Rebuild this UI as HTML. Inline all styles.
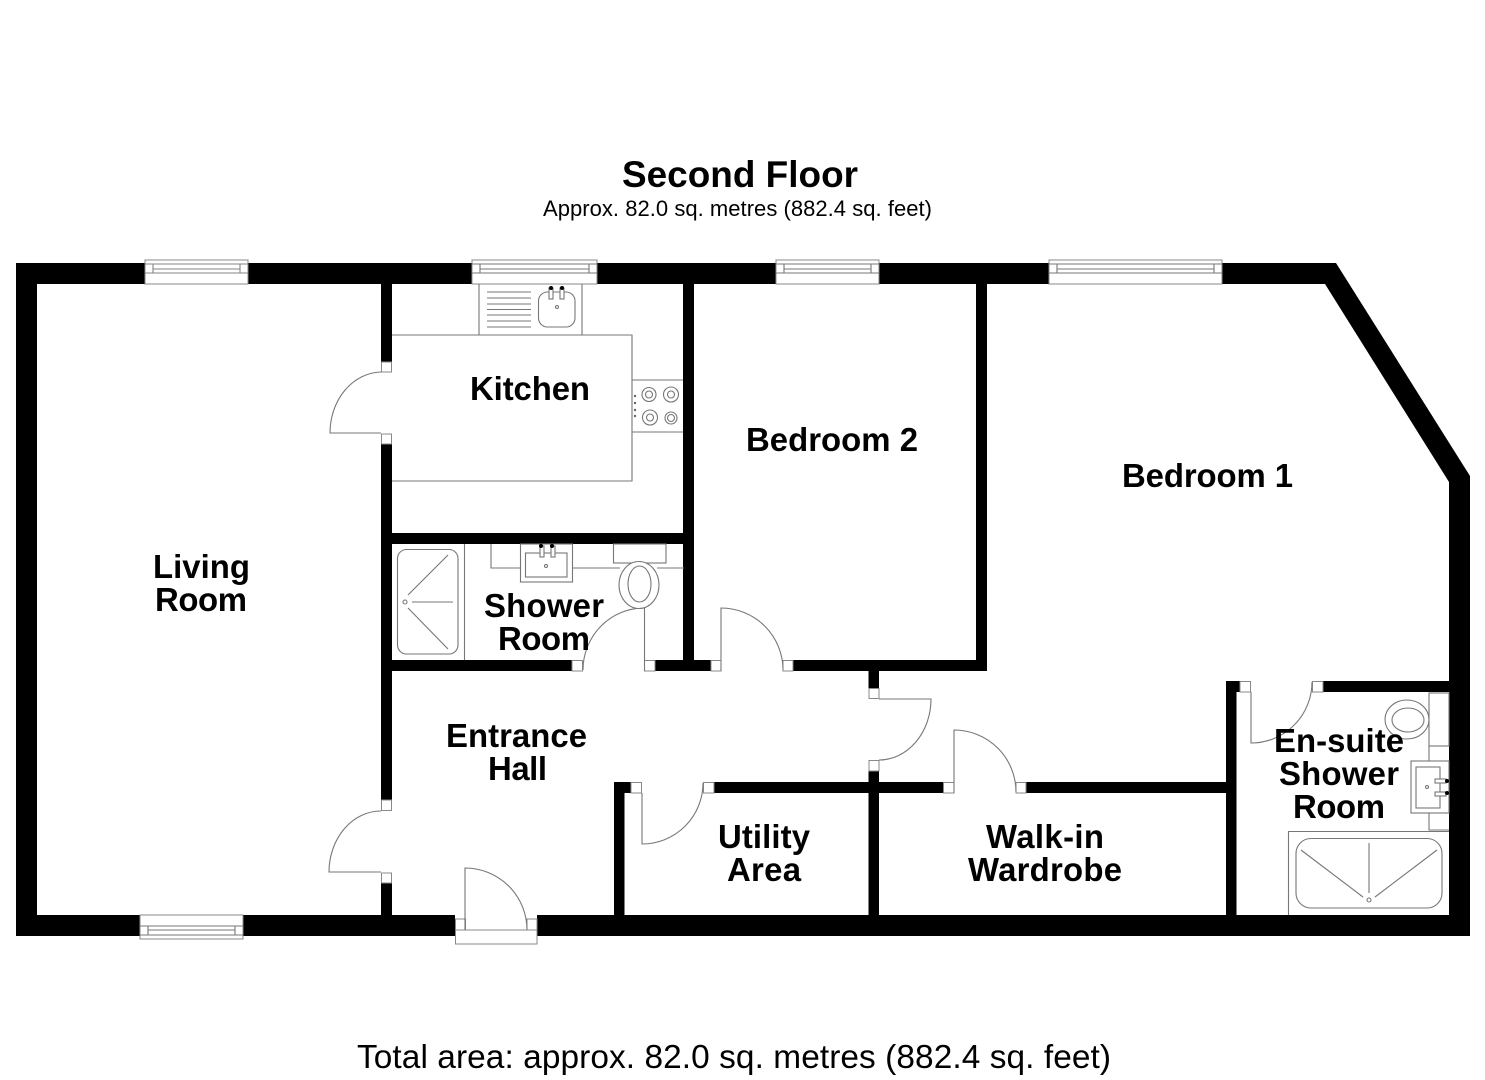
<!DOCTYPE html>
<html lang="en">
<head>
<meta charset="utf-8">
<title>Second Floor</title>
<style>
html,body{margin:0;padding:0;background:#fff}
svg{display:block}
text{font-family:"Liberation Sans",Arial,sans-serif;fill:#000}
.r{font-weight:700;font-size:32.900px}
.l{fill:none;stroke:#777;stroke-width:1.1}
.w{fill:#000}
.j{fill:#fff;stroke:#888;stroke-width:1}
</style>
</head>
<body>
<svg width="1485" height="1080" viewBox="0 0 1485 1080" xmlns="http://www.w3.org/2000/svg">
<rect width="1485" height="1080" fill="#fff"/>

<!-- outer walls -->
<path class="w" fill-rule="evenodd" d="M16 263H1336L1470 476V936H16ZM37 284V915H1449V482L1325 284Z"/>

<!-- interior walls -->
<g class="w">
<rect x="381" y="284" width="11" height="78"/>
<rect x="381" y="444" width="11" height="356"/>
<rect x="381" y="883" width="11" height="32"/>
<rect x="683" y="284" width="11" height="387"/>
<rect x="391" y="533" width="293" height="11"/>
<rect x="391" y="660" width="181" height="11"/>
<rect x="655" y="660" width="56" height="11"/>
<rect x="793" y="660" width="194" height="11"/>
<rect x="976" y="284" width="11" height="387"/>
<rect x="868.500" y="671" width="10.500" height="17"/>
<rect x="868.500" y="771" width="10.500" height="144"/>
<rect x="614" y="782" width="10.500" height="133"/>
<rect x="614" y="782" width="17" height="11"/>
<rect x="714" y="782" width="229" height="11"/>
<rect x="1026" y="782" width="201" height="11"/>
<rect x="1226" y="681" width="10.500" height="234"/>
<rect x="1226" y="681" width="14" height="11"/>
<rect x="1323" y="681" width="126" height="11"/>
</g>

<!-- windows -->
<g>
<rect x="145" y="260" width="103" height="24" fill="#fff" stroke="#888"/>
<path class="l" d="M145 264H248M153 264V273M240 264V273M153 269H240M153 273H240M145 273H248" stroke-opacity=".9"/>
<rect x="472" y="260" width="125" height="24" fill="#fff" stroke="#888"/>
<path class="l" d="M472 264H597M480 264V273M589 264V273M480 269H589M472 273H597"/>
<rect x="776" y="260" width="103" height="24" fill="#fff" stroke="#888"/>
<path class="l" d="M776 264H879M784 264V273M871 264V273M784 269H871M776 273H879"/>
<rect x="1049" y="260" width="173" height="24" fill="#fff" stroke="#888"/>
<path class="l" d="M1049 264H1222M1057 264V273M1214 264V273M1057 269H1214M1049 273H1222"/>
<rect x="140" y="915" width="103" height="24" fill="#fff" stroke="#888"/>
<path class="l" d="M140 926H243M148 926V935M235 926V935M148 930H235M140 935H243"/>
</g>

<!-- entrance opening -->
<rect x="455" y="914" width="82" height="23" fill="#fff"/>
<rect class="j" x="455.500" y="930" width="81.500" height="14"/>
<rect class="j" x="455.500" y="919" width="10" height="11"/>
<rect class="j" x="527" y="919" width="10" height="11"/>
<path class="l" d="M465 930V868A62 62 0 0 1 527 930"/>

<!-- door jambs -->
<g class="j">
<rect x="381.500" y="362" width="10" height="10"/>
<rect x="381.500" y="434" width="10" height="10"/>
<rect x="381.500" y="800" width="10" height="10.500"/>
<rect x="381.500" y="873" width="10" height="10"/>
<rect x="572" y="660.500" width="10.500" height="10.500"/>
<rect x="644.500" y="660.500" width="10.500" height="10.500"/>
<rect x="711" y="660.500" width="10" height="10.500"/>
<rect x="783" y="660.500" width="10" height="10.500"/>
<rect x="869" y="688.500" width="10" height="10"/>
<rect x="869" y="760.500" width="10" height="10.500"/>
<rect x="631" y="782.500" width="10.500" height="10.500"/>
<rect x="703.500" y="782.500" width="10.500" height="10.500"/>
<rect x="943.500" y="782.500" width="10.500" height="10.500"/>
<rect x="1016" y="782.500" width="10" height="10.500"/>
<rect x="1240" y="681.500" width="10.500" height="10.500"/>
<rect x="1312.500" y="681.500" width="10.500" height="10.500"/>
</g>

<!-- doors -->
<g class="l">
<path d="M381 372A52 61 0 0 0 330 433H381"/>
<path d="M381 811A52 61 0 0 0 329 872H381"/>
<path d="M644.500 671V608A61 62 0 0 0 583 670"/>
<path d="M721 671V608A62 62 0 0 1 783 670"/>
<path d="M879 699H931A52 61 0 0 1 879 760"/>
<path d="M642 793V844A61 61 0 0 0 703 783"/>
<path d="M954 793V730A62 62 0 0 1 1016 792"/>
<path d="M1251 692V743A61 61 0 0 0 1312 682"/>
</g>

<!-- kitchen fittings -->
<g class="l">
<path d="M392 335H632V481H392"/>
<path d="M632 380H683M632 432H683"/>
<path d="M479 284V335M582 284V335"/>
<path d="M487 292H531M487 298H531M487 304H531M487 309.500H531M487 315H531M487 321H531M487 327H531"/>
<rect x="538.500" y="292" width="36.500" height="35" rx="9"/>
<circle cx="557" cy="307" r="1.500"/>
<rect x="549" y="288" width="4" height="11" fill="#fff"/>
<rect x="560" y="288" width="4" height="11" fill="#fff"/>
<circle cx="649" cy="394.500" r="7"/><circle cx="649" cy="394.500" r="3.500"/>
<circle cx="671" cy="394.500" r="7.500"/><circle cx="671" cy="394.500" r="3.500"/>
<circle cx="650" cy="417.500" r="7.500"/><circle cx="650" cy="417.500" r="3.500"/>
<circle cx="671" cy="418" r="6"/><circle cx="671" cy="418" r="3.500"/>
</g>
<g fill="#666">
<circle cx="635" cy="396" r="1.200"/><circle cx="635" cy="403" r="1.200"/><circle cx="635" cy="410" r="1.200"/><circle cx="635" cy="416" r="1.200"/>
</g>
<circle cx="551" cy="288" r="2" fill="#000"/><circle cx="562" cy="288" r="2" fill="#000"/>

<!-- shower room fittings -->
<g class="l">
<path d="M464.500 544V660"/>
<rect x="397.500" y="549.500" width="60.500" height="104.500" rx="9"/>
<path d="M408 595L448 555M412 602H453M408 608L448 649"/>
<circle cx="405" cy="602" r="2"/>
<path d="M491 544V568H520M572 568H620M657 568H684"/>
<rect x="520.500" y="544" width="52" height="38" fill="#fff"/>
<rect x="525.500" y="553" width="41.500" height="24"/>
<circle cx="546" cy="566" r="1.500"/>
<rect x="540" y="546" width="4" height="11" fill="#fff"/>
<rect x="551" y="546" width="4" height="11" fill="#fff"/>
<rect x="613.500" y="544" width="52.500" height="19"/>
<ellipse cx="639" cy="585" rx="20" ry="23.500" fill="#fff"/>
<ellipse cx="639.500" cy="584" rx="11.500" ry="18"/>
</g>
<circle cx="541" cy="546" r="2" fill="#000"/><circle cx="552" cy="546" r="2" fill="#000"/>

<!-- en-suite fittings -->
<g class="l">
<ellipse cx="1407" cy="719.500" rx="22" ry="19.500"/>
<ellipse cx="1408" cy="720" rx="16" ry="12"/>
<rect x="1429" y="693" width="20" height="53" fill="#fff"/>
<path d="M1429 746V761M1429 813V830H1449"/>
<rect x="1411" y="761" width="38" height="52" fill="#fff"/>
<rect x="1416" y="767" width="24" height="41"/>
<circle cx="1427" cy="787" r="1.500"/>
<rect x="1435" y="779" width="11" height="4" fill="#fff"/>
<rect x="1435" y="792" width="11" height="4" fill="#fff"/>
<path d="M1288.500 915V831.500H1449"/>
<rect x="1296" y="838.500" width="146" height="69.500" rx="15"/>
<path d="M1369 843V893M1301 850L1363 897M1437 850L1375 897"/>
<circle cx="1369" cy="900" r="2"/>
</g>
<circle cx="1447" cy="781" r="2" fill="#000"/><circle cx="1447" cy="793" r="2" fill="#000"/>

<!-- headings -->
<text x="622" y="187" font-size="36.900" font-weight="700" textLength="236" lengthAdjust="spacing">Second Floor</text>
<text x="543" y="216" font-size="22" textLength="389" lengthAdjust="spacing">Approx. 82.0 sq. metres (882.4 sq. feet)</text>
<text x="357" y="1068" font-size="33.400" textLength="754" lengthAdjust="spacing">Total area: approx. 82.0 sq. metres (882.4 sq. feet)</text>

<!-- room labels -->
<g class="r">
<text x="470" y="400" textLength="120" lengthAdjust="spacing">Kitchen</text>
<text x="746" y="451" textLength="172" lengthAdjust="spacing">Bedroom 2</text>
<text x="1122" y="487" textLength="171" lengthAdjust="spacing">Bedroom 1</text>
<text x="153" y="578" textLength="97" lengthAdjust="spacing">Living</text>
<text x="155" y="611" textLength="92" lengthAdjust="spacing">Room</text>
<text x="484" y="617" textLength="120" lengthAdjust="spacing">Shower</text>
<text x="498" y="650" textLength="92" lengthAdjust="spacing">Room</text>
<text x="446" y="747" textLength="141" lengthAdjust="spacing">Entrance</text>
<text x="488" y="780" textLength="59" lengthAdjust="spacing">Hall</text>
<text x="718" y="848" textLength="92" lengthAdjust="spacing">Utility</text>
<text x="727" y="881" textLength="74" lengthAdjust="spacing">Area</text>
<text x="986" y="848" textLength="118" lengthAdjust="spacing">Walk-in</text>
<text x="968" y="881" textLength="154" lengthAdjust="spacing">Wardrobe</text>
<text x="1274" y="752" textLength="130" lengthAdjust="spacing">En-suite</text>
<text x="1279" y="785" textLength="120" lengthAdjust="spacing">Shower</text>
<text x="1293" y="818" textLength="92" lengthAdjust="spacing">Room</text>
</g>
</svg>
</body>
</html>
